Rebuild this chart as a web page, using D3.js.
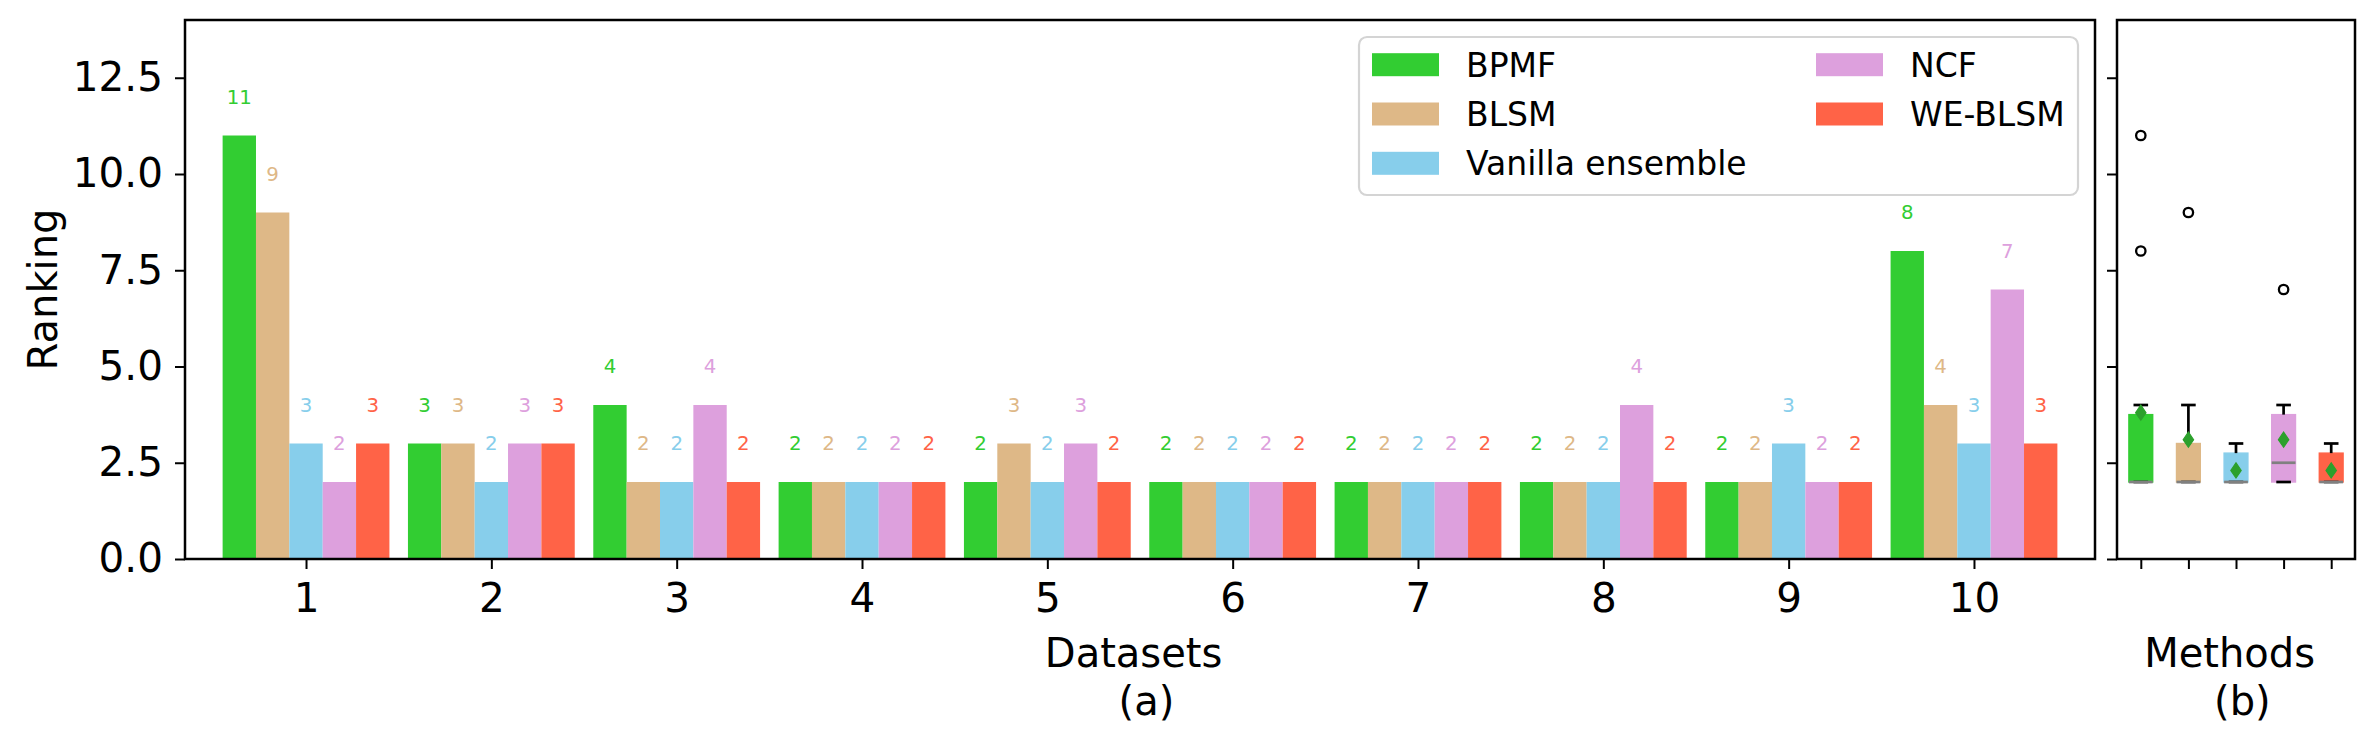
<!DOCTYPE html>
<html>
<head>
<meta charset="utf-8">
<script src="https://cdn.jsdelivr.net/npm/d3@7"></script>
<style>
  html, body { margin: 0; padding: 0; background: #ffffff; }
  svg { display: block; font-family: "DejaVu Sans", sans-serif; }
</style>
</head>
<body>
<svg id="chart" width="2375" height="742"></svg>
<script>
// ---------------- data ----------------
const datasets = [1, 2, 3, 4, 5, 6, 7, 8, 9, 10];
const methods = ["BPMF", "BLSM", "Vanilla ensemble", "NCF", "WE-BLSM"];
const colors = ["#32CD32", "#DEB887", "#87CEEB", "#DDA0DD", "#FF6347"];
const bpmf    = [11, 3, 4, 2, 2, 2, 2, 2, 2, 8];
const blsm    = [9, 3, 2, 2, 3, 2, 2, 2, 2, 4];
const vanilla = [3, 2, 2, 2, 2, 2, 2, 2, 3, 3];
const ncf     = [2, 3, 4, 2, 3, 2, 2, 4, 2, 7];
const weblsm  = [3, 3, 2, 2, 2, 2, 2, 2, 2, 3];
const series = [bpmf, blsm, vanilla, ncf, weblsm];
const yTicks = [0, 2.5, 5, 7.5, 10, 12.5];
const boxPositions = [1, 2, 3, 4, 5];

// ---------------- layout ----------------
const svg = d3.select("#chart");
const FONT_TICK = 40.5, FONT_LABEL = 40, FONT_LEGEND = 33, FONT_VAL = 19.8;
const left = { x0: 185, x1: 2095, y0: 20, y1: 559 };
const right = { x0: 2117, x1: 2355, y0: 20, y1: 559 };
const barW = 0.18;

const x = d3.scaleLinear().domain([0.347, 10.653]).range([left.x0, left.x1]);
const y = d3.scaleLinear().domain([0, 14]).range([left.y1, left.y0]);
const xb = d3.scaleLinear().domain([0.5, 5.5]).range([right.x0, right.x1]);

// ---------------- left panel: grouped bars ----------------
const gBars = svg.append("g");
series.forEach((vals, si) => {
  const off = (si - 2) * barW;
  gBars.selectAll(null).data(vals).enter().append("rect")
    .attr("x", (d, i) => x(datasets[i] + off - barW / 2))
    .attr("width", (d, i) => x(datasets[i] + off + barW / 2) - x(datasets[i] + off - barW / 2))
    .attr("y", d => y(d))
    .attr("height", d => y(0) - y(d))
    .attr("fill", colors[si]);
  gBars.selectAll(null).data(vals).enter().append("text")
    .attr("x", (d, i) => x(datasets[i] + off))
    .attr("y", d => y(d + 0.82))
    .attr("text-anchor", "middle")
    .attr("font-size", FONT_VAL)
    .attr("fill", colors[si])
    .text(d => d);
});

// axes left
const axL = svg.append("g").attr("transform", `translate(${left.x0},0)`)
  .call(d3.axisLeft(y).tickValues(yTicks).tickFormat(d3.format(".1f")).tickSize(10).tickPadding(12));
const axB = svg.append("g").attr("transform", `translate(0,${left.y1})`)
  .call(d3.axisBottom(x).tickValues(datasets).tickFormat(d3.format("d")).tickSize(10).tickPadding(14));
[axL, axB].forEach(a => {
  a.select(".domain").remove();
  a.selectAll(".tick line").attr("stroke", "#000").attr("stroke-width", 2);
  a.selectAll(".tick text").attr("font-size", FONT_TICK).attr("fill", "#000")
    .attr("font-family", "DejaVu Sans");
});

svg.append("rect").attr("x", left.x0).attr("y", left.y0)
  .attr("width", left.x1 - left.x0).attr("height", left.y1 - left.y0)
  .attr("fill", "none").attr("stroke", "#000").attr("stroke-width", 2.5);

// ---------------- legend ----------------
const leg = svg.append("g");
leg.append("rect").attr("x", 1359).attr("y", 37).attr("width", 719).attr("height", 158)
  .attr("rx", 8).attr("fill", "#fff").attr("fill-opacity", 0.8)
  .attr("stroke", "#d4d4d4").attr("stroke-width", 2.2);
const legCols = [{ hx: 1372, tx: 1466 }, { hx: 1816, tx: 1910 }];
const legRows = [64.7, 114.0, 163.3];
methods.forEach((m, i) => {
  const c = legCols[i < 3 ? 0 : 1];
  const cy = legRows[i < 3 ? i : i - 3];
  leg.append("rect").attr("x", c.hx).attr("y", cy - 11.5).attr("width", 67).attr("height", 23)
    .attr("fill", colors[i]);
  leg.append("text").attr("x", c.tx).attr("y", cy + 12).attr("font-size", FONT_LEGEND)
    .attr("fill", "#000").text(m);
});

// ---------------- right panel: boxplot ----------------
function stats(vals) {
  const s = vals.slice().sort(d3.ascending);
  const q1 = d3.quantile(s, 0.25), med = d3.quantile(s, 0.5), q3 = d3.quantile(s, 0.75);
  const iqr = q3 - q1;
  const hiF = q3 + 1.5 * iqr, loF = q1 - 1.5 * iqr;
  const inside = s.filter(v => v >= loF && v <= hiF);
  return {
    q1, med, q3,
    lo: d3.min(inside), hi: d3.max(inside),
    mean: d3.mean(s),
    out: s.filter(v => v < loF || v > hiF)
  };
}
const st = series.map(stats);
const gBox = svg.append("g");
const bw = 0.25, cw = 0.125;
// boxes
st.forEach((s, i) => {
  const p = boxPositions[i];
  gBox.append("rect")
    .attr("x", xb(p - bw)).attr("width", xb(p + bw) - xb(p - bw))
    .attr("y", y(s.q3)).attr("height", y(s.q1) - y(s.q3))
    .attr("fill", colors[i]).attr("stroke", colors[i]).attr("stroke-width", 1.4);
});
// whiskers and caps
st.forEach((s, i) => {
  const p = boxPositions[i];
  [[s.q3, s.hi], [s.q1, s.lo]].forEach(([a, b]) => {
    gBox.append("line").attr("x1", xb(p)).attr("x2", xb(p)).attr("y1", y(a)).attr("y2", y(b))
      .attr("stroke", "#000").attr("stroke-width", 2.7);
  });
  [s.hi, s.lo].forEach(v => {
    gBox.append("line").attr("x1", xb(p - cw)).attr("x2", xb(p + cw)).attr("y1", y(v)).attr("y2", y(v))
      .attr("stroke", "#000").attr("stroke-width", 2.7).attr("stroke-linecap", "square");
  });
});
// medians
st.forEach((s, i) => {
  const p = boxPositions[i];
  gBox.append("line").attr("x1", xb(p - bw)).attr("x2", xb(p + bw)).attr("y1", y(s.med)).attr("y2", y(s.med))
    .attr("stroke", "#808080").attr("stroke-width", 2.7);
});
// fliers
st.forEach((s, i) => {
  const p = boxPositions[i];
  gBox.selectAll(null).data(s.out).enter().append("circle")
    .attr("cx", xb(p)).attr("cy", d => y(d)).attr("r", 4.7)
    .attr("fill", "none").attr("stroke", "#000").attr("stroke-width", 2.3);
});
// means
st.forEach((s, i) => {
  const p = boxPositions[i];
  gBox.append("path").attr("d", "M0,-7.6L5.2,0L0,7.6L-5.2,0Z")
    .attr("transform", `translate(${xb(p)},${y(s.mean)})`)
    .attr("fill", "#2ca02c").attr("stroke", "#2ca02c").attr("stroke-width", 1.2)
    .attr("stroke-linejoin", "miter");
});

const axR = svg.append("g").attr("transform", `translate(${right.x0},0)`)
  .call(d3.axisLeft(y).tickValues(yTicks).tickFormat("").tickSize(10));
const axRB = svg.append("g").attr("transform", `translate(0,${right.y1})`)
  .call(d3.axisBottom(xb).tickValues(boxPositions).tickFormat("").tickSize(10));
[axR, axRB].forEach(a => {
  a.select(".domain").remove();
  a.selectAll(".tick line").attr("stroke", "#000").attr("stroke-width", 2);
});
svg.append("rect").attr("x", right.x0).attr("y", right.y0)
  .attr("width", right.x1 - right.x0).attr("height", right.y1 - right.y0)
  .attr("fill", "none").attr("stroke", "#000").attr("stroke-width", 2.5);

// ---------------- axis labels ----------------
svg.append("text").attr("transform", `translate(57,${(left.y0 + left.y1) / 2}) rotate(-90)`)
  .attr("text-anchor", "middle").attr("font-size", FONT_LABEL).text("Ranking");
const lcx = (left.x0 + left.x1) / 2, rcx = (right.x0 + right.x1) / 2;
const sh = 0.16 * FONT_LABEL;
svg.append("text").attr("x", lcx - sh).attr("y", 667).attr("text-anchor", "middle")
  .attr("font-size", FONT_LABEL).text("Datasets");
svg.append("text").attr("x", lcx + sh).attr("y", 715).attr("text-anchor", "middle")
  .attr("font-size", FONT_LABEL).text("(a)");
svg.append("text").attr("x", rcx - sh).attr("y", 667).attr("text-anchor", "middle")
  .attr("font-size", FONT_LABEL).text("Methods");
svg.append("text").attr("x", rcx + sh).attr("y", 715).attr("text-anchor", "middle")
  .attr("font-size", FONT_LABEL).text("(b)");
</script>
</body>
</html>
